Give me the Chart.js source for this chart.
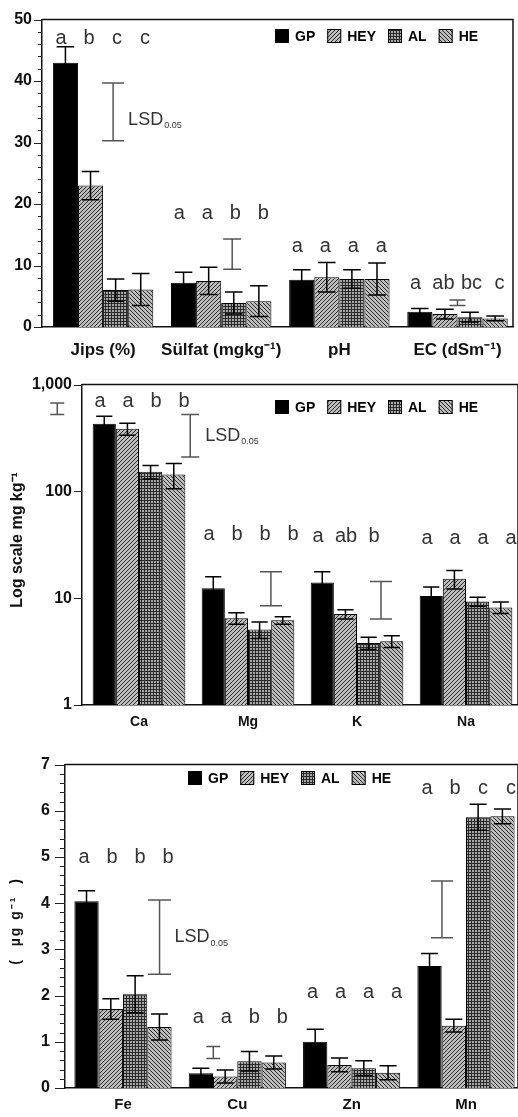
<!DOCTYPE html>
<html>
<head>
<meta charset="utf-8">
<script src="https://cdn.jsdelivr.net/npm/chart.js@4.4.1/dist/chart.umd.min.js"></script>
<style>
  html, body { margin: 0; padding: 0; background: #fff; overflow: hidden; }
  .panel { position: absolute; left: 0; width: 518px; }
</style>
</head>
<body>
<div class="panel" style="top:0;height:365px"><canvas id="soil"></canvas></div>
<div class="panel" style="top:365px;height:375px"><canvas id="macro"></canvas></div>
<div class="panel" style="top:740px;height:377px"><canvas id="micro"></canvas></div>
<script>
const series = ["GP", "HEY", "AL", "HE"];

// top panel: soil properties
const soilLabels = ["Jips (%)", "Sülfat (mgkg⁻¹)", "pH", "EC (dSm⁻¹)"];
const soilGP = [43.0, 7.2, 7.7, 2.5];
const soilHEY = [23.0, 7.5, 8.1, 2.1];
const soilAL = [6.0, 3.9, 7.8, 1.6];
const soilHE = [6.1, 4.2, 7.8, 1.4];
const soilErrGP = [2.6, 1.7, 1.6, 0.5];
const soilErrHEY = [2.3, 2.2, 2.4, 0.8];
const soilErrAL = [1.8, 1.8, 1.5, 0.8];
const soilErrHE = [2.6, 2.5, 2.6, 0.4];
const soilLetters = [["a", "b", "c", "c"], ["a", "a", "b", "b"], ["a", "a", "a", "a"], ["a", "ab", "bc", "c"]];
const soilLetterY = [47, 18.5, 13.1, 7.1];
const soilLsdCat = [0, 1, 3];
const soilLsdLow = [30.3, 9.4, 3.5];
const soilLsdHigh = [39.7, 14.3, 4.4];
const soilTicks = [0, 10, 20, 30, 40, 50];

// middle panel: macro elements, log scale
const macroLabels = ["Ca", "Mg", "K", "Na"];
const macroGP = [430, 12.4, 14.0, 10.5];
const macroHEY = [385, 6.5, 7.1, 15.2];
const macroAL = [153, 5.1, 3.8, 9.3];
const macroHE = [144, 6.2, 3.95, 8.2];
const macroErrGP = [75, 3.5, 3.7, 2.2];
const macroErrHEY = [50, 0.8, 0.7, 3.0];
const macroErrAL = [22, 0.9, 0.5, 0.9];
const macroErrHE = [38, 0.5, 0.5, 1.0];
const macroLetters = [["a", "a", "b", "b"], ["a", "b", "b", "b"], ["a", "ab", "b", ""], ["a", "a", "a", "a"]];
const macroLetterY = [700, 39.7, 38.1, 36.6];
const macroLsdCat = [0, 0, 1, 2];
const macroLsdLow = [524, 210, 8.5, 6.4];
const macroLsdHigh = [674, 524, 17.7, 14.3];
const macroTicks = [1, 10, 100, 1000];

// bottom panel: micro elements
const microLabels = ["Fe", "Cu", "Zn", "Mn"];
const microGP = [4.04, 0.32, 1.0, 2.64];
const microHEY = [1.71, 0.25, 0.5, 1.35];
const microAL = [2.03, 0.58, 0.43, 5.86];
const microHE = [1.32, 0.55, 0.33, 5.88];
const microErrGP = [0.23, 0.11, 0.27, 0.27];
const microErrHEY = [0.22, 0.14, 0.15, 0.14];
const microErrAL = [0.4, 0.21, 0.16, 0.28];
const microErrHE = [0.28, 0.14, 0.15, 0.16];
const microLetters = [["a", "b", "b", "b"], ["a", "a", "b", "b"], ["a", "a", "a", "a"], ["a", "b", "c", "c"]];
const microLetterY = [5.0, 1.52, 2.07, 6.49];
const microLsdCat = [0, 1, 3];
const microLsdLow = [2.46, 0.64, 3.25];
const microLsdHigh = [4.07, 0.9, 4.48];
const microTicks = [0, 1, 2, 3, 4, 5, 6, 7];

Chart.defaults.font.family = "'Liberation Sans', Arial, sans-serif";
const FONT = "'Liberation Sans', Arial, sans-serif";

function hatch(kind) {
  const n = kind === "grid" ? 3 : 4;
  const c = document.createElement("canvas");
  c.width = c.height = n;
  const g = c.getContext("2d");
  g.fillStyle = kind === "grid" ? "#a8a8a8" : "#bdbdbd";
  g.fillRect(0, 0, n, n);
  g.fillStyle = kind === "grid" ? "#2a2a2a" : "#2a2a2a";
  for (let x = 0; x < n; x++) {
    for (let y = 0; y < n; y++) {
      let on = false;
      if (kind === "fwd") on = (x + y) % n === 0;
      if (kind === "back") on = (x - y + n) % n === 0;
      if (kind === "grid") on = x === 0 || y === 0;
      if (on) g.fillRect(x, y, 1, 1);
    }
  }
  return g.createPattern(c, "repeat");
}

const fills = ["#000", hatch("fwd"), hatch("grid"), hatch("back")];

function drawDecor(chart, p) {
  const ctx = chart.ctx, a = chart.chartArea;
  const xs = chart.scales.x, ys = chart.scales.y;
  const catW = xs.getPixelForValue(1) - xs.getPixelForValue(0);
  ctx.save();

  // frame
  ctx.strokeStyle = "#111";
  ctx.lineWidth = 1.5;
  ctx.beginPath();
  ctx.moveTo(a.left, a.top);
  ctx.lineTo(a.right, a.top);
  ctx.lineTo(a.right, a.bottom);
  ctx.stroke();

  // y tick marks
  ctx.lineWidth = 1.2;
  ctx.strokeStyle = "#222";
  ctx.beginPath();
  if (p.minorStep) {
    const n = Math.round((p.yMax - p.yMin) / p.minorStep);
    for (let k = 0; k <= n; k++) {
      const v = p.yMin + k * p.minorStep;
      const major = k % p.minorPerMajor === 0;
      const py = Math.round(ys.getPixelForValue(v)) + 0.5;
      ctx.moveTo(a.left - (major ? p.tickMajor : p.tickMinor), py);
      ctx.lineTo(a.left, py);
    }
  } else {
    p.yTicks.forEach(v => {
      const py = Math.round(ys.getPixelForValue(v)) + 0.5;
      ctx.moveTo(a.left - p.tickMajor, py);
      ctx.lineTo(a.left, py);
    });
  }
  ctx.stroke();

  // error bars
  ctx.strokeStyle = "#000";
  ctx.lineWidth = 1.5;
  series.forEach((_, i) => {
    chart.getDatasetMeta(i).data.forEach((bar, j) => {
      const v = p.values[i][j], e = p.errors[i][j];
      const hi = ys.getPixelForValue(v + e);
      const lo = ys.getPixelForValue(Math.max(v - e, p.yMin + 1e-6));
      const w = bar.width * 0.35;
      ctx.beginPath();
      ctx.moveTo(bar.x, hi); ctx.lineTo(bar.x, lo);
      ctx.moveTo(bar.x - w, hi); ctx.lineTo(bar.x + w, hi);
      ctx.moveTo(bar.x - w, lo); ctx.lineTo(bar.x + w, lo);
      ctx.stroke();
    });
  });

  // significance letters
  ctx.fillStyle = "#333";
  ctx.font = "20px " + FONT;
  ctx.textAlign = "center";
  ctx.textBaseline = "middle";
  p.letters.forEach((row, j) => {
    const cx = xs.getPixelForValue(j);
    const py = ys.getPixelForValue(p.letterY[j]);
    row.forEach((t, i) => {
      if (t) ctx.fillText(t, cx + (i - 1.5) * 28 + p.letterShift, py);
    });
  });

  // LSD bars
  ctx.strokeStyle = "#555";
  ctx.lineWidth = 1.5;
  p.lsdCat.forEach((c, k) => {
    const lx = xs.getPixelForValue(c) + p.lsdShift[k] * catW;
    const y1 = ys.getPixelForValue(p.lsdLow[k]);
    const y2 = ys.getPixelForValue(p.lsdHigh[k]);
    const hw = p.lsdCap[k] / 2;
    ctx.beginPath();
    ctx.moveTo(lx, y1); ctx.lineTo(lx, y2);
    ctx.moveTo(lx - hw, y1); ctx.lineTo(lx + hw, y1);
    ctx.moveTo(lx - hw, y2); ctx.lineTo(lx + hw, y2);
    ctx.stroke();
    if (k === p.lsdLabelIdx) {
      const ty = (y1 + y2) / 2 + p.lsdLabelDy;
      ctx.fillStyle = "#333";
      ctx.textAlign = "left";
      ctx.font = "18px 'Liberation Sans Narrow', " + FONT;
      ctx.fillText("LSD", lx + 15, ty);
      const w = ctx.measureText("LSD").width;
      ctx.font = "9px 'Liberation Sans Narrow', " + FONT;
      ctx.fillText("0.05", lx + 16 + w, ty + 6);
    }
  });

  // legend
  ctx.textAlign = "left";
  ctx.textBaseline = "middle";
  ctx.font = "bold 14px " + FONT;
  let lx = p.legendX;
  series.forEach((name, i) => {
    ctx.fillStyle = fills[i];
    ctx.fillRect(lx, p.legendY - 7, 14, 14);
    ctx.strokeStyle = "#000";
    ctx.lineWidth = 1;
    ctx.strokeRect(lx + 0.5, p.legendY - 6.5, 13, 13);
    ctx.fillStyle = "#000";
    ctx.fillText(name, lx + 20, p.legendY + 1);
    lx += 20 + ctx.measureText(name).width + 12;
  });

  // y axis title
  if (p.yTitle) {
    ctx.translate(p.yTitleX, p.yTitleY);
    ctx.rotate(-Math.PI / 2);
    ctx.textAlign = "center";
    ctx.font = "bold " + p.yTitleSize + "px " + FONT;
    ctx.letterSpacing = p.yTitleSpacing || "0px";
    ctx.fillStyle = "#111";
    ctx.fillText(p.yTitle, 0, 0);
  }
  ctx.restore();
}

function buildPanel(id, p) {
  return new Chart(document.getElementById(id), {
    type: "bar",
    data: {
      datasets: series.map((name, i) => ({
        label: name,
        data: p.values[i].map((v, j) => ({ x: j, y: v })),
        backgroundColor: fills[i],
        borderColor: "#000",
        borderWidth: 1,
        categoryPercentage: 0.85,
        barPercentage: 1,
      })),
    },
    options: {
      responsive: true,
      maintainAspectRatio: false,
      animation: false,
      layout: { padding: { top: p.padTop, right: p.padRight, left: 0, bottom: 0 } },
      plugins: { legend: { display: false }, tooltip: { enabled: false } },
      scales: {
        x: {
          type: "linear",
          min: p.xMin,
          max: p.xMax,
          bounds: "data",
          offset: false,
          grid: { display: false, drawTicks: false },
          border: { display: true, color: "#111", width: 1.5 },
          afterBuildTicks: s => { s.ticks = p.labels.map((_, j) => ({ value: j })); },
          afterFit: s => { s.height = p.xH; },
          ticks: {
            autoSkip: false,
            maxRotation: 0,
            padding: p.xPad,
            color: "#111",
            font: { weight: "bold", size: p.xFont },
            callback: v => p.labels[v],
          },
        },
        y: {
          type: p.log ? "logarithmic" : "linear",
          min: p.yMin,
          max: p.yMax,
          bounds: "data",
          grid: { display: false, drawTicks: false },
          border: { display: true, color: "#111", width: 1.5 },
          afterBuildTicks: s => { s.ticks = p.yTicks.map(v => ({ value: v })); },
          afterFit: s => { s.width = p.yW; },
          ticks: {
            padding: p.yPad,
            color: "#111",
            font: { weight: "bold", size: 16 },
            callback: v => (v >= 1000 ? v.toLocaleString("en-US") : String(v)),
          },
        },
      },
    },
    plugins: [{ id: "decor" + id, afterDatasetsDraw: chart => drawDecor(chart, p) }],
  });
}

buildPanel("soil", {
  labels: soilLabels,
  values: [soilGP, soilHEY, soilAL, soilHE],
  errors: [soilErrGP, soilErrHEY, soilErrAL, soilErrHE],
  letters: soilLetters, letterY: soilLetterY, letterShift: 0,
  lsdCat: soilLsdCat, lsdLow: soilLsdLow, lsdHigh: soilLsdHigh,
  lsdShift: [0.085, 0.093, 0.0], lsdCap: [22, 18, 16], lsdLabelIdx: 0, lsdLabelDy: 8,
  yTicks: soilTicks, yMin: 0, yMax: 50, minorStep: 2, minorPerMajor: 5,
  tickMajor: 8, tickMinor: 4, yW: 42, yPad: 10,
  xMin: -0.517, xMax: 3.47, xH: 38, xPad: 13, xFont: 17,
  padTop: 10, padRight: 5,
  legendX: 275, legendY: 36,
});

buildPanel("macro", {
  labels: macroLabels, log: true,
  values: [macroGP, macroHEY, macroAL, macroHE],
  errors: [macroErrGP, macroErrHEY, macroErrAL, macroErrHE],
  letters: macroLetters, letterY: macroLetterY, letterShift: 3,
  lsdCat: macroLsdCat, lsdLow: macroLsdLow, lsdHigh: macroLsdHigh,
  lsdShift: [-0.75, 0.47, 0.21, 0.22], lsdCap: [14, 18, 22, 22], lsdLabelIdx: 1, lsdLabelDy: 0,
  yTicks: macroTicks, yMin: 1, yMax: 1000, minorStep: 0,
  tickMajor: 8, tickMinor: 4, yW: 82, yPad: 10,
  xMin: -0.523, xMax: 3.477, xH: 35, xPad: 9, xFont: 14,
  padTop: 8, padRight: 0,
  legendX: 275, legendY: 42,
  yTitle: "Log scale mg kg⁻¹", yTitleX: 18, yTitleY: 175, yTitleSize: 16,
});

buildPanel("micro", {
  labels: microLabels,
  values: [microGP, microHEY, microAL, microHE],
  errors: [microErrGP, microErrHEY, microErrAL, microErrHE],
  letters: microLetters, letterY: microLetterY, letterShift: 3,
  lsdCat: microLsdCat, lsdLow: microLsdLow, lsdHigh: microLsdHigh,
  lsdShift: [0.32, -0.21, -0.21], lsdCap: [23, 14, 22], lsdLabelIdx: 0, lsdLabelDy: 0,
  yTicks: microTicks, yMin: 0, yMax: 7, minorStep: 0.2, minorPerMajor: 5,
  tickMajor: 10, tickMinor: 5, yW: 65, yPad: 15,
  xMin: -0.507, xMax: 3.455, xH: 29, xPad: 8, xFont: 15,
  padTop: 18, padRight: 0,
  legendX: 188, legendY: 38,
  yTitle: "(  µg g⁻¹  )", yTitleX: 16, yTitleY: 181, yTitleSize: 14, yTitleSpacing: "2px",
});
</script>
</body>
</html>
